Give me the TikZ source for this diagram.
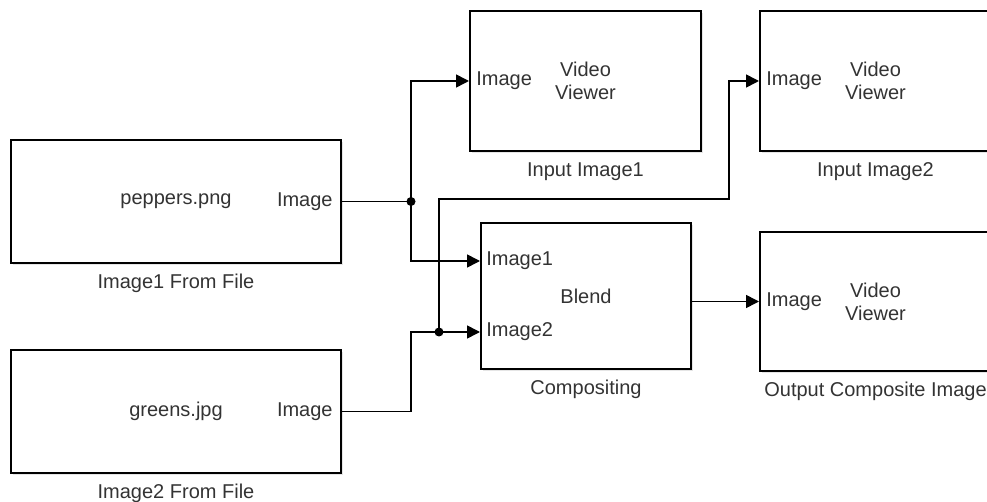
\documentclass[tikz,border=0pt]{standalone}
\usepackage{fontspec}
\setmainfont{Liberation Sans}
\usetikzlibrary{arrows.meta, positioning, calc, shadows}

\begin{document}
\begin{tikzpicture}[x=0.5pt, y=-0.5pt,
    block/.style={draw, line width=1pt, fill=white, text=black!80,
        drop shadow={shadow xshift=1.2pt, shadow yshift=-1.2pt, fill=black!20},
        font=\fontsize{10}{11.5}\selectfont, align=center, inner sep=0pt},
    port/.style={text=black!80, font=\fontsize{10}{12}\selectfont, inner sep=0pt},
    caption/.style={text=black!80, font=\fontsize{10}{12}\selectfont, anchor=base, inner sep=0pt},
    wire/.style={line width=0.8pt},
    sig/.style={wire, -{Triangle[length=6.5pt, width=6.5pt]}},
    dot/.style={circle, fill=black, inner sep=0pt, minimum size=4.5pt}]
    \useasboundingbox (0,0) rectangle (987,502);

    % Image sources
    \node[block, minimum width=165pt, minimum height=61.5pt] (file1) at (176,201.5) {peppers.png};
    \node[block, minimum width=165pt, minimum height=61.5pt] (file2) at (176,411.5) {greens.jpg};

    % Viewers and blend block
    \node[block, minimum width=115.5pt, minimum height=70pt] (view1) at (585.5,81) {Video\\Viewer};
    \node[block, minimum width=115.5pt, minimum height=70pt] (view2) at (875.5,81) {Video\\Viewer};
    \node[block, minimum width=105pt, minimum height=73pt] (comp) at (586,296) {Blend};
    \node[block, minimum width=115.5pt, minimum height=69.5pt] (view3) at (875.5,301.5) {Video\\Viewer};

    % Ports
    \coordinate (comp-in1) at ([yshift=17.5pt]comp.west);
    \coordinate (comp-in2) at ([yshift=-18pt]comp.west);
    \node[port, anchor=east] (out1) at ([xshift=-4.5pt]file1.east) {Image};
    \node[port, anchor=east] (out2) at ([xshift=-4.5pt]file2.east) {Image};
    \node[port, anchor=west] (in1) at ([xshift=3.5pt]view1.west) {Image};
    \node[port, anchor=west] (in2) at ([xshift=3.5pt]view2.west) {Image};
    \node[port, anchor=west] (in3) at ([xshift=3.5pt]view3.west) {Image};
    \node[port, anchor=west] (blend1) at ([xshift=3pt]comp-in1) {Image1};
    \node[port, anchor=west] (blend2) at ([xshift=3pt]comp-in2) {Image2};

    % Captions
    \node[caption] (cap1) at ([yshift=-12.5pt]file1.south) {Image1 From File};
    \node[caption] (cap2) at ([yshift=-12.5pt]file2.south) {Image2 From File};
    \node[caption] (cap3) at ([yshift=-12.5pt]view1.south) {Input Image1};
    \node[caption] (cap4) at ([yshift=-12.5pt]view2.south) {Input Image2};
    \node[caption] (cap5) at ([yshift=-12.5pt]comp.south) {Compositing};
    \node[caption] (cap6) at ([yshift=-12.5pt]view3.south) {Output Composite Image};

    % Signal lines
    \coordinate (j1) at ([xshift=34.5pt]file1.east);
    \coordinate (j2) at ([xshift=-20.5pt]comp-in2);
    \coordinate (bend) at (729,199);
    \draw[wire] (file1.east) -- (j1);
    \draw[sig] (j1) |- (view1.west);
    \draw[sig] (j1) |- (comp-in1);
    \draw[sig] (file2.east) -- (file2.east -| j1) |- (comp-in2);
    \draw[sig] (j2) |- (bend) |- (view2.west);
    \draw[sig] (comp.east |- view3.west) -- (view3.west);
    \node[dot] (d1) at (j1) {};
    \node[dot] (d2) at (j2) {};
\end{tikzpicture}
\end{document}
